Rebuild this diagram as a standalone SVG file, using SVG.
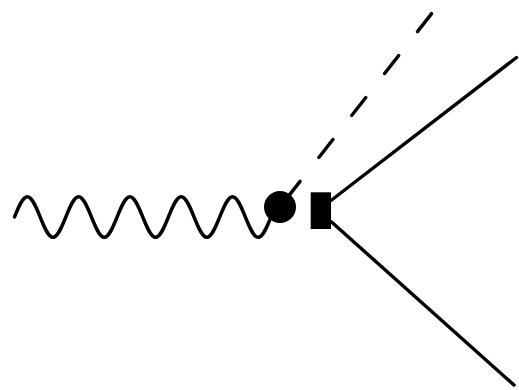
<svg xmlns="http://www.w3.org/2000/svg" width="519" height="390" viewBox="0 0 519 390">
  <style>
    .line { fill: none; stroke: #000; stroke-width: 3.4; stroke-linecap: round; stroke-linejoin: round; }
    .dashed { stroke-dasharray: 22.9 30.4; stroke-linecap: round; }
    .vertex { fill: #000; stroke: none; }
  </style>
  <rect width="519" height="390" fill="#fff"/>
  <g id="connectors">
    <path id="photon" class="line" d="M14.5,217
      c4.182,-10.40 8.184,-20.3 12.825,-20.3 c4.641,0 8.643,9.90 12.825,20.3 c4.182,10.40 8.184,20.3 12.825,20.3 c4.641,0 8.643,-9.90 12.825,-20.3
      c4.182,-10.40 8.184,-20.3 12.825,-20.3 c4.641,0 8.643,9.90 12.825,20.3 c4.182,10.40 8.184,20.3 12.825,20.3 c4.641,0 8.643,-9.90 12.825,-20.3
      c4.182,-10.40 8.184,-20.3 12.825,-20.3 c4.641,0 8.643,9.90 12.825,20.3 c4.182,10.40 8.184,20.3 12.825,20.3 c4.641,0 8.643,-9.90 12.825,-20.3
      c4.182,-10.40 8.184,-20.3 12.825,-20.3 c4.641,0 8.643,9.90 12.825,20.3 c4.182,10.40 8.184,20.3 12.825,20.3 c4.641,0 8.643,-9.90 12.825,-20.3
      c4.182,-10.40 8.184,-20.3 12.825,-20.3 c4.641,0 8.643,9.90 12.825,20.3 c4.182,10.40 8.184,20.3 12.825,20.3 c4.641,0 8.643,-9.90 12.825,-20.3"/>
    <path id="scalar" class="line dashed" d="M431.6,13.6 L280,207"/>
    <path id="fermion-up" class="line" d="M331,200.5 L516.5,57.5"/>
    <path id="fermion-down" class="line" d="M331,221.5 L514,385"/>
  </g>
  <g id="vertex-circle">
    <circle class="vertex" cx="280" cy="207" r="16"/>
  </g>
  <g id="vertex-square">
    <rect class="vertex" x="310.7" y="192.3" width="20.3" height="36.7"/>
  </g>
</svg>
